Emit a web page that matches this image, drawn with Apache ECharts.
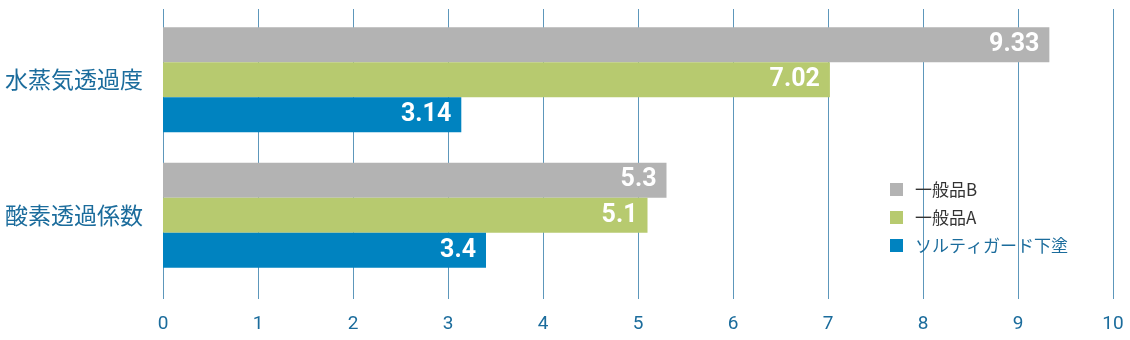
<!DOCTYPE html>
<html><head><meta charset="utf-8">
<script src="https://cdn.jsdelivr.net/npm/echarts@6/dist/echarts.min.js"></script>
<style>html,body{margin:0;padding:0;background:#fff}#c{width:1130px;height:340px}</style>
</head><body><div id="c"></div>
<script>
const categories = ['水蒸気透過度', '酸素透過係数'];
const seriesNames = ['一般品B', '一般品A', 'ソルティガード下塗'];
const valuesB = [9.33, 5.3];
const valuesA = [7.02, 5.1];
const valuesS = [3.14, 3.4];
const xTicks = [0, 10, 1];

const colors = ['#b3b3b3', '#b7ca6f', '#0083c0'];
const blueText = '#1b6c9c';
const chart = echarts.init(document.getElementById('c'), null, {renderer: 'canvas'});
const labelCfg = {
  show: true, position: 'insideRight', distance: 10,
  color: '#fff', fontWeight: 'bold', fontSize: 25, fontFamily: 'Roboto, Liberation Sans, sans-serif'
};
const allVals = [valuesB, valuesA, valuesS];
chart.setOption({
  animation: false,
  grid: [
    {left: 163, right: 17, top: 9, bottom: 41},
    {left: 163, right: 17, top: 12, height: 271}
  ],
  xAxis: [
    {gridIndex: 0, type: 'value', min: xTicks[0], max: xTicks[1], interval: xTicks[2],
     axisLine: {show: false}, axisTick: {show: false},
     splitLine: {show: true, lineStyle: {color: '#5d97bb', width: 1}},
     axisLabel: {color: blueText, fontSize: 19, margin: 16, fontFamily: 'Roboto, sans-serif'}},
    {gridIndex: 1, type: 'value', min: xTicks[0], max: xTicks[1], show: false}
  ],
  yAxis: [
    {gridIndex: 0, type: 'value', show: false},
    {gridIndex: 1, type: 'category', data: categories, inverse: true,
     axisLine: {show: false}, axisTick: {show: false},
     axisLabel: {color: blueText, fontSize: 23, margin: 20, fontFamily: 'Noto Sans CJK JP'}}
  ],
  legend: {
    orient: 'vertical', left: 885, top: 176, itemWidth: 13, itemHeight: 13, itemGap: 11,
    icon: 'rect',
    textStyle: {fontSize: 17, color: '#333', fontFamily: 'Noto Sans CJK JP', padding: [0, 0, 0, 7]},
    data: [
      {name: seriesNames[0]},
      {name: seriesNames[1]},
      {name: seriesNames[2], textStyle: {color: blueText}}
    ]
  },
  series: seriesNames.map((n, i) => ({
    name: n, type: 'bar', xAxisIndex: 1, yAxisIndex: 1,
    data: allVals[i], barGap: '0%', barCategoryGap: '22.5%',
    itemStyle: {color: colors[i]}, label: labelCfg
  }))
});
</script></body></html>
